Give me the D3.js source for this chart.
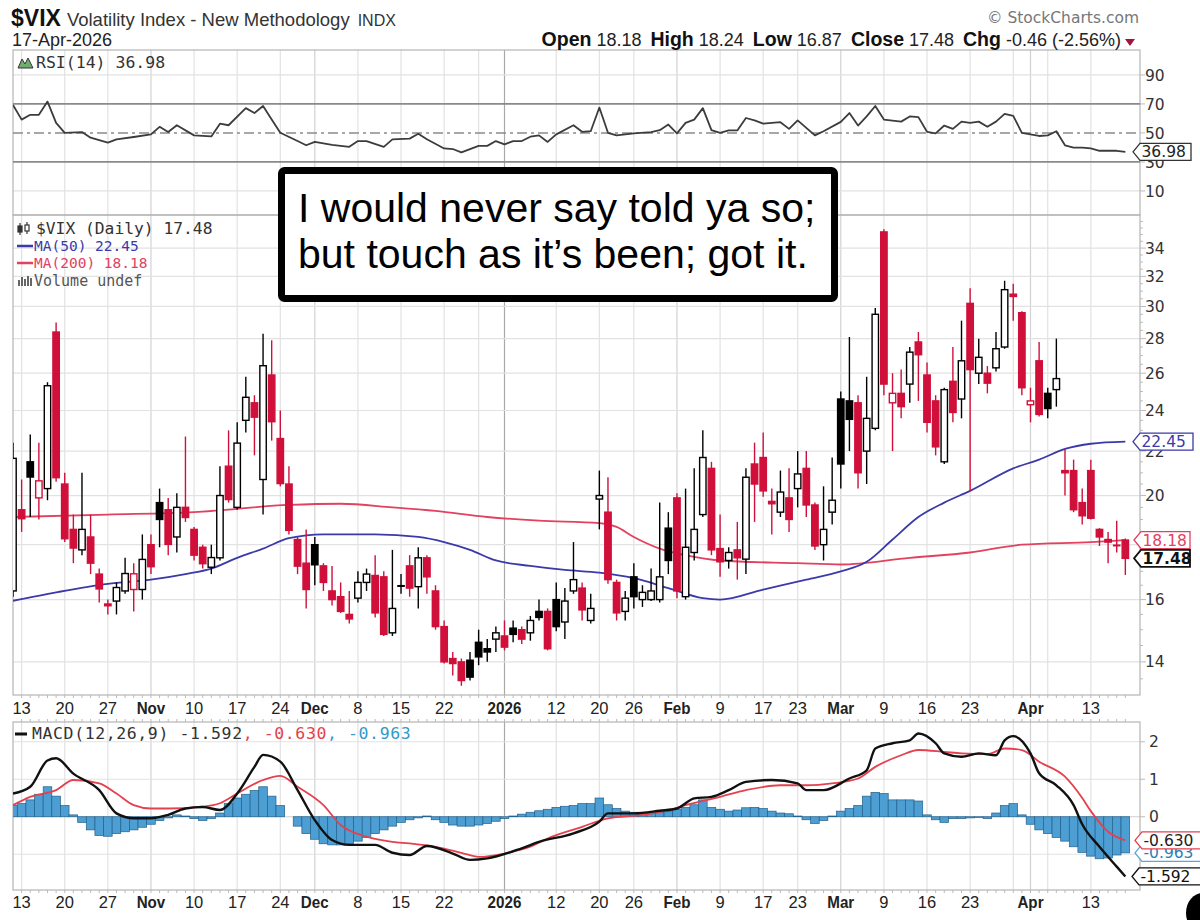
<!DOCTYPE html>
<html><head><meta charset="utf-8"><title>$VIX</title>
<script src="https://cdn.jsdelivr.net/npm/d3@7/dist/d3.min.js"></script>
<style>html,body{margin:0;padding:0;background:#fff}svg{display:block}</style>
</head><body><svg id="c" width="1200" height="920"></svg>
<script>
// ---------------- DATA (bar index -1 = 10-Oct-2025 ... 128 = 17-Apr-2026) ----------------
const firstIndex = -1;
const opens = [
 16.3,19.4,21.5,19.9,20.3,28.4,20.5,18.6,17.8,18.3,
 16.9,15.85,15.95,16.3,16.35,16.35,18.0,19.7,19.4,18.3,
 19.5,18.6,17.9,17.15,17.5,21.3,19.5,23.5,24.4,20.7,
 25.9,22.6,20.5,18.2,17.3,18.0,17.2,16.3,16.1,15.5,
 16.05,16.6,16.85,16.8,14.9,16.45,17.2,16.45,17.5,16.3,
 15.1,14.1,14.0,14.05,14.6,14.4,14.7,14.8,15.05,15.0,
 14.9,15.6,15.6,16.0,15.25,16.3,16.4,15.3,19.85,19.3,
 16.6,15.6,16.8,16.0,16.0,16.0,18.65,19.9,16.1,17.7,
 19.2,21.2,17.85,17.4,17.8,17.45,21.4,21.7,19.75,19.3,
 19.9,20.3,21.2,19.6,18.0,19.3,24.6,24.5,24.4,22.0,
 23.1,35.2,24.4,24.9,25.4,27.8,25.9,24.5,21.5,25.55,
 24.6,30.2,26.0,26.0,26.3,27.5,30.8,29.6,24.3,26.7,
 24.9,25.1,21.1,21.1,19.7,21.1,18.6,18.2,18.0,18.18];
const highs = [
 22.4,20.7,22.8,22.4,25.5,28.99,21.0,19.2,21.0,19.2,
 17.1,16.0,16.6,17.5,17.3,18.4,18.4,20.3,19.9,20.1,
 22.7,18.7,18.0,18.0,21.3,23.0,23.4,25.8,24.8,28.3,
 27.9,24.0,21.3,18.3,18.6,18.3,17.3,17.2,16.6,16.3,
 17.0,17.1,17.6,17.0,17.8,16.9,17.6,17.9,17.6,16.5,
 15.3,14.3,14.1,14.3,15.0,14.7,15.1,15.3,15.3,15.1,
 15.45,16.0,15.7,16.6,16.4,18.1,16.6,16.2,21.1,20.8,
 16.7,16.3,17.3,16.5,17.1,19.7,19.3,20.1,20.3,21.2,
 23.0,21.5,19.2,17.9,18.9,21.2,22.4,22.9,20.3,21.1,
 21.2,22.0,22.0,19.7,20.4,21.7,25.0,28.1,24.8,25.8,
 29.9,35.4,26.0,26.2,27.5,28.4,26.6,24.8,25.2,27.5,
 29.1,31.2,28.0,26.4,28.4,31.7,31.5,29.7,25.2,27.8,
 25.2,28.0,22.1,21.6,20.3,21.6,18.65,18.5,18.95,18.24];
const lows = [
 16.1,18.5,19.1,19.0,19.8,20.6,18.1,17.3,17.6,16.9,
 15.9,15.5,15.5,16.2,15.6,16.0,16.9,17.9,17.6,17.7,
 18.9,17.4,17.1,16.9,17.4,19.7,19.4,22.9,21.8,19.2,
 22.5,20.4,18.4,16.9,15.7,16.5,16.3,15.8,15.55,15.2,
 15.9,16.3,15.4,14.8,14.8,16.2,16.1,15.7,16.2,15.0,
 13.95,13.6,13.3,13.45,13.9,14.0,14.3,14.35,14.6,14.55,
 14.65,15.3,14.35,14.95,14.7,16.2,15.3,15.2,18.6,16.55,
 15.3,15.3,15.7,15.75,15.95,15.9,16.9,16.05,16.0,17.4,
 19.1,17.6,16.8,17.1,16.7,16.9,18.9,19.95,18.4,19.1,
 18.5,19.5,19.1,17.8,17.4,18.8,20.3,22.0,20.3,20.5,
 23.0,24.8,22.0,23.6,24.4,24.5,22.9,21.8,21.4,23.4,
 23.6,20.2,25.4,24.9,26.1,27.4,29.1,24.8,23.4,23.7,
 23.6,24.2,20.0,19.3,18.8,19.0,17.95,17.3,17.7,16.87];
const closes = [
 21.66,19.03,20.81,20.64,25.31,20.78,18.23,17.87,18.6,17.3,
 16.37,15.79,16.42,16.92,16.91,17.44,17.17,19.0,18.01,19.5,
 19.08,17.6,17.28,17.51,20.0,19.83,22.38,24.69,23.66,26.42,
 23.43,20.52,18.56,17.19,16.35,17.24,16.6,16.0,15.6,15.35,
 16.6,16.9,15.55,14.85,15.7,16.5,16.4,17.5,16.8,15.1,
 14.0,13.95,13.45,13.55,14.15,14.3,14.9,14.45,14.85,14.7,
 15.3,15.4,14.4,15.1,15.95,16.7,15.65,15.7,20.0,16.7,
 15.55,16.05,16.1,16.25,16.3,16.8,17.4,16.3,17.9,18.6,
 21.7,17.8,17.35,17.7,17.5,20.8,20.5,20.2,19.65,20.15,
 19.0,20.95,19.6,17.95,18.6,19.8,21.4,23.55,21.0,23.6,
 29.5,25.4,24.9,24.2,27.2,27.05,23.4,22.2,25.1,23.9,
 26.7,26.2,26.9,25.45,27.4,31.1,30.65,25.2,24.5,23.8,
 24.1,25.7,21.0,19.4,19.15,19.05,18.3,18.1,17.94,17.48];

// moving averages: [bar index, value]
const ma50 = [[-1,15.96],[4,16.25],[10,16.55],[15,16.7],[19,16.9],[22,17.1],[25,17.5],[28,17.85],[31,18.25],[35,18.4],[41,18.4],[46,18.3],[49,18.1],[52,17.8],[55,17.4],[59,17.2],[63,17.05],[67,16.95],[71,16.75],[75,16.4],[79,16.05],[81,16.0],[86,16.35],[91,16.7],[95,17.0],[98,17.35],[101,18.2],[104,19.1],[107,19.7],[110,20.2],[115,21.2],[118,21.6],[121,22.1],[124,22.35],[128,22.45]];
const ma200 = [[-1,19.1],[10,19.2],[20,19.3],[31,19.6],[37,19.65],[43,19.5],[48,19.35],[54,19.1],[60,18.95],[67,18.85],[69,18.7],[71,18.3],[74,17.85],[77,17.6],[81,17.4],[90,17.3],[95,17.25],[103,17.5],[110,17.7],[116,18.0],[124,18.1],[128,18.18]];

// RSI(14): [bar index, value]
const rsi = [[-1,69.3],[0,59.2],[1,62.5],[2,62.5],[3,71.6],[4,56.9],[5,50.1],[7,50.6],[8,46.7],[10,43.3],[11,45.6],[13,47.2],[15,49],[16,54.2],[17,50.6],[18,55.3],[20,48.3],[22,47.6],[23,56.4],[24,55.3],[26,67.1],[27,63.7],[28,68.6],[29,59.2],[30,50.1],[32,44.4],[33,41.5],[34,43.8],[36,41.8],[38,40.4],[39,44.4],[40,44.4],[42,40.4],[43,45.6],[45,46.1],[46,49.4],[47,45.6],[49,39.3],[50,38.9],[51,36.6],[53,41.1],[54,41.1],[55,44.4],[56,42.1],[57,44.4],[58,44.4],[59,47.4],[60,48.3],[61,43.8],[62,49],[64,55.3],[65,50.8],[66,51.2],[67,67.5],[68,50.1],[69,48.3],[71,49.7],[73,50.6],[74,51.9],[75,55.8],[76,49.7],[77,56.9],[78,59.2],[79,67.1],[80,51.9],[81,50.1],[82,51.7],[83,51.7],[84,60.3],[85,58.7],[86,56.4],[88,57.4],[89,52.8],[90,58.7],[91,53.5],[92,48.3],[93,51.2],[95,57.6],[96,63.7],[97,55.1],[98,61.4],[99,68.6],[100,59.2],[102,57.8],[103,61.4],[104,60.9],[105,50.8],[106,49.7],[107,55.1],[108,52.8],[109,57.8],[110,56.9],[111,57.8],[112,54.2],[113,57.8],[114,63.2],[115,61.8],[116,50.1],[118,47.9],[119,48.3],[120,51.2],[121,41.5],[122,39.9],[123,39.9],[124,39.3],[125,37.7],[127,37.7],[128,36.98]];

// MACD(12,26,9): line and signal [bar index, value]; histogram per bar from index -1
const macdLine = [[-1,0.62],[1,0.8],[3,1.5],[4,1.56],[6,1.15],[9,0.71],[11,0.09],[13,-0.04],[15,-0.04],[17,0.05],[19,0.22],[21,0.26],[23,0.18],[25,0.62],[27,1.33],[28,1.65],[30,1.47],[32,0.71],[34,-0.09],[36,-0.62],[38,-0.75],[41,-0.75],[43,-0.96],[45,-1.02],[47,-0.78],[50,-0.98],[52,-1.15],[54,-1.11],[58,-0.84],[60,-0.67],[64,-0.44],[67,-0.13],[68,0.09],[71,0.09],[74,0.16],[76,0.22],[78,0.49],[80,0.53],[82,0.71],[84,0.93],[87,0.98],[90,0.89],[91,0.71],[93,0.71],[96,1.02],[98,1.24],[99,1.82],[101,1.96],[103,2.04],[104,2.22],[106,1.96],[107,1.69],[109,1.6],[111,1.69],[113,1.64],[114,2.04],[115,2.15],[117,1.69],[118,1.16],[120,0.84],[122,0.31],[123,-0.2],[125,-0.8],[127,-1.33],[128,-1.592]];
const signalLine = [[-1,0.31],[1,0.53],[4,0.71],[6,0.98],[9,0.89],[11,0.62],[13,0.31],[15,0.22],[17,0.22],[21,0.27],[23,0.36],[25,0.62],[28,0.98],[30,1.09],[32,0.8],[35,0.31],[37,-0.22],[40,-0.53],[43,-0.67],[45,-0.71],[48,-0.8],[51,-0.96],[53,-1.07],[56,-0.98],[59,-0.8],[61,-0.58],[65,-0.27],[68,-0.04],[72,0.05],[75,0.18],[77,0.31],[81,0.53],[84,0.71],[88,0.84],[91,0.84],[94,0.89],[97,1.02],[99,1.33],[102,1.64],[104,1.78],[107,1.73],[109,1.69],[112,1.67],[114,1.82],[116,1.78],[118,1.47],[121,1.07],[123,0.5],[124,0.15],[126,-0.4],[128,-0.63]];
const histogram = [
 0.3,0.35,0.45,0.6,0.8,0.55,0.3,0.05,-0.15,-0.35,
 -0.5,-0.52,-0.45,-0.4,-0.35,-0.28,-0.2,-0.1,-0.03,0.05,
 0.02,-0.05,-0.1,-0.05,0.1,0.35,0.5,0.6,0.7,0.8,
 0.55,0.3,0.0,-0.25,-0.45,-0.6,-0.72,-0.75,-0.75,-0.72,
 -0.65,-0.55,-0.45,-0.35,-0.25,-0.15,-0.08,-0.03,0.02,-0.08,
 -0.15,-0.22,-0.25,-0.25,-0.22,-0.18,-0.12,-0.05,0.02,0.07,
 0.12,0.16,0.2,0.25,0.28,0.3,0.35,0.35,0.5,0.32,
 0.22,0.15,0.12,0.1,0.1,0.12,0.15,0.2,0.25,0.32,
 0.45,0.25,0.2,0.15,0.18,0.24,0.25,0.22,0.15,0.1,
 0.08,0.02,-0.08,-0.18,-0.1,0.02,0.15,0.22,0.3,0.55,
 0.65,0.62,0.45,0.45,0.45,0.42,0.05,-0.08,-0.15,-0.05,
 -0.05,-0.03,-0.02,-0.05,0.1,0.3,0.35,0.05,-0.2,-0.35,
 -0.45,-0.55,-0.65,-0.8,-0.95,-1.05,-1.12,-1.1,-1.02,-0.963];

// x axis
const tickIdx    = [0,5,10,15,20,25,30,34,39,44,49,56,62,67,71,76,81,86,90,95,100,105,110,117,124];
const tickLabels = ["13","20","27","Nov","10","17","24","Dec","8","15","22","2026","12","20","26","Feb","9","17","23","Mar","9","16","23","Apr","13"];
const tickBold   = ["Nov","Dec","2026","Feb","Mar","Apr"];
const extraGridIdx = [53,115,119];
const priceTicks = [14,16,18,20,22,24,26,28,30,32,34];
const priceLabels = [14,16,20,22,24,26,28,30,32,34];   // 18 is hidden behind the value tags
const rsiTicks = [10,30,50,70,90];
const macdTicks = [-1,0,1,2];
const macdLabels = [0,1,2];                              // -1 is hidden behind the value tags

// header values
const titleSym = "$VIX", titleName = "Volatility Index - New Methodology", titleExch = "INDX", dateStr = "17-Apr-2026";
const quote = [["Open","18.18"],["High","18.24"],["Low","16.87"],["Close","17.48"],["Chg","-0.46 (-2.56%)"]];
const lastRsi = 36.98, lastMa50 = 22.45, lastMa200 = 18.18, lastClose = 17.48;
const lastMacd = -1.592, lastSignal = -0.630, lastHist = -0.963;

// ---------------- LAYOUT ----------------
const svg = d3.select('#c');
const L = 13, R = 1140;
const RSI_T = 50, RSI_B = 215, PR_T = 215, PR_B = 695, M_T = 722, M_B = 890;
const x = d3.scaleLinear().domain([-1, 129.7]).range([L, R]);
const yR = d3.scaleLinear().domain([-6.6, 107.2]).range([RSI_B, RSI_T]);
const yP = d3.scaleLog().domain([13.04, 36.5]).range([PR_B, PR_T]);
const yM = d3.scaleLinear().domain([-1.953, 2.527]).range([M_B, M_T]);
const RED = '#d0103a', BLUE = '#3a3aaa', MARED = '#e2415f', HISTC = '#4d9fd3';
const SANS = '"Liberation Sans", Arial, sans-serif', DV = '"DejaVu Sans", Verdana, sans-serif', MONO = '"DejaVu Sans Mono", monospace';

svg.append('rect').attr('width',1200).attr('height',920).attr('fill','#fff');
const defs = svg.append('defs');
[['cR',RSI_T,RSI_B],['cP',PR_T,PR_B],['cM',M_T,M_B]].forEach(([id,t,b]) =>
  defs.append('clipPath').attr('id',id).append('rect').attr('x',L).attr('y',t).attr('width',R-L).attr('height',b-t));

// vertical grid
const gridG = svg.append('g');
const allGrid = tickIdx.map((d,k)=>({i:d,lab:tickLabels[k]})).concat(extraGridIdx.map(d=>({i:d,lab:''})));
[[RSI_T,RSI_B],[PR_T,PR_B],[M_T,M_B]].forEach(([t,b]) => {
  allGrid.forEach(g => {
    const col = g.lab === '2026' ? '#a9a9a9' : (tickBold.includes(g.lab) ? '#d2d2d2' : '#e2e2e2');
    gridG.append('line').attr('x1',x(g.i)).attr('x2',x(g.i)).attr('y1',t).attr('y2',b)
      .attr('stroke',col).attr('stroke-width',1.2);
  });
});
// horizontal grids
priceTicks.forEach(v => gridG.append('line').attr('x1',L).attr('x2',R).attr('y1',yP(v)).attr('y2',yP(v)).attr('stroke','#e2e2e2').attr('stroke-width',1.2));
[90,10].forEach(v => gridG.append('line').attr('x1',L).attr('x2',R).attr('y1',yR(v)).attr('y2',yR(v)).attr('stroke','#e2e2e2').attr('stroke-width',1.2));
macdTicks.forEach(v => gridG.append('line').attr('x1',L).attr('x2',R).attr('y1',yM(v)).attr('y2',yM(v)).attr('stroke', v===0?'#cfcfcf':'#e2e2e2').attr('stroke-width',1.2));

// panel borders
[[RSI_T,RSI_B],[PR_T,PR_B],[M_T,M_B]].forEach(([t,b]) =>
  svg.append('rect').attr('x',L).attr('y',t).attr('width',R-L).attr('height',b-t).attr('fill','none').attr('stroke','#b5b5b5').attr('stroke-width',1.2));

// day ticks along borders
const dayIdx = d3.range(0,129);
const tk = svg.append('g').attr('stroke','#bbb').attr('stroke-width',1);
dayIdx.forEach(i => {
  tk.append('line').attr('x1',x(i)).attr('x2',x(i)).attr('y1',PR_B).attr('y2',PR_B+3);
  tk.append('line').attr('x1',x(i)).attr('x2',x(i)).attr('y1',M_T-3).attr('y2',M_T);
  tk.append('line').attr('x1',x(i)).attr('x2',x(i)).attr('y1',M_B).attr('y2',M_B+3);
});
// right minor ticks on price axis
d3.range(13.5, 36.01, 0.5).forEach(v => {
  if (yP(v) < PR_T || yP(v) > PR_B) return;
  const major = priceTicks.includes(v);
  tk.append('line').attr('x1',R).attr('x2',R+(major?6:3)).attr('y1',yP(v)).attr('y2',yP(v));
});
rsiTicks.forEach(v => tk.append('line').attr('x1',R).attr('x2',R+5).attr('y1',yR(v)).attr('y2',yR(v)));
macdTicks.forEach(v => tk.append('line').attr('x1',R).attr('x2',R+5).attr('y1',yM(v)).attr('y2',yM(v)));

// ---------------- RSI ----------------
const rsiG = svg.append('g').attr('clip-path','url(#cR)');
[70,30].forEach(v => rsiG.append('line').attr('x1',L).attr('x2',R).attr('y1',yR(v)).attr('y2',yR(v)).attr('stroke','#8a8a8a').attr('stroke-width',1.8));
rsiG.append('line').attr('x1',L).attr('x2',R).attr('y1',yR(50)).attr('y2',yR(50)).attr('stroke','#8a8a8a').attr('stroke-width',1.4).attr('stroke-dasharray','10,4,3,4');
rsiG.append('path').datum(rsi).attr('d', d3.line().x(d=>x(d[0])).y(d=>yR(d[1])))
  .attr('fill','none').attr('stroke','#3c3c3c').attr('stroke-width',1.8).attr('stroke-linejoin','round');

// ---------------- PRICE ----------------
const pG = svg.append('g').attr('clip-path','url(#cP)');
const maLine = d3.line().x(d=>x(d[0])).y(d=>yP(d[1])).curve(d3.curveMonotoneX);
pG.append('path').datum(ma200).attr('d',maLine).attr('fill','none').attr('stroke',MARED).attr('stroke-width',1.8);
pG.append('path').datum(ma50).attr('d',maLine).attr('fill','none').attr('stroke',BLUE).attr('stroke-width',1.8);

const bars = opens.map((o,k) => {
  const c = closes[k], pc = k>0 ? closes[k-1] : o;
  return {i:k+firstIndex, o, h:highs[k], l:lows[k], c, up: c>=o, col: c>=pc ? '#000' : RED};
});
const bw = 6.4;
const cg = pG.append('g');
bars.forEach(b => {
  const cx = x(b.i);
  cg.append('line').attr('x1',cx).attr('x2',cx).attr('y1',yP(b.h)).attr('y2',yP(b.l)).attr('stroke',b.col).attr('stroke-width',1.4);
  const yt = yP(Math.max(b.o,b.c)), yb = yP(Math.min(b.o,b.c));
  if (yb - yt < 1.6) {
    cg.append('line').attr('x1',cx-bw/2-0.6).attr('x2',cx+bw/2+0.6).attr('y1',(yt+yb)/2).attr('y2',(yt+yb)/2)
      .attr('stroke',b.col).attr('stroke-width',2);
  } else {
    cg.append('rect').attr('x',cx-bw/2).attr('y',yt).attr('width',bw).attr('height',yb-yt)
      .attr('fill', b.up ? '#fff' : b.col).attr('stroke',b.col).attr('stroke-width',1.4);
  }
});

// ---------------- MACD ----------------
const mG = svg.append('g').attr('clip-path','url(#cM)');
const hw = x(1)-x(0);
histogram.forEach((v,k) => {
  const i = k+firstIndex;
  const y0 = yM(0), y1 = yM(v);
  mG.append('rect').attr('x',x(i)-hw/2).attr('y',Math.min(y0,y1)).attr('width',hw).attr('height',Math.abs(y1-y0))
    .attr('fill',HISTC).attr('stroke','#21608c').attr('stroke-width',0.7);
});
const mLine = d3.line().x(d=>x(d[0])).y(d=>yM(d[1])).curve(d3.curveMonotoneX);
mG.append('path').datum(signalLine).attr('d',mLine).attr('fill','none').attr('stroke','#e4414e').attr('stroke-width',1.8);
mG.append('path').datum(macdLine).attr('d',mLine).attr('fill','none').attr('stroke','#111').attr('stroke-width',2.4);

// ---------------- AXIS LABELS ----------------
const axG = svg.append('g').attr('font-family',DV).attr('font-size',15.5).attr('fill','#333');
priceLabels.forEach(v => axG.append('text').attr('x',R+5).attr('y',yP(v)).attr('dy','0.36em').text(v));
rsiTicks.forEach(v => axG.append('text').attr('x',R+5).attr('y',yR(v)).attr('dy','0.36em').text(v));
macdLabels.forEach(v => axG.append('text').attr('x',R+9).attr('y',yM(v)).attr('dy','0.36em').text(v));

const xG = svg.append('g').attr('font-family',SANS).attr('font-size',16.5).attr('fill','#222').attr('text-anchor','middle');
[708, 902].forEach(yy => tickIdx.forEach((i,k) => {
  const lab = tickLabels[k];
  xG.append('text').attr('x',x(i)).attr('y',yy).attr('dy','0.36em')
    .attr('font-weight', tickBold.includes(lab) ? 'bold' : 'normal')
    .attr('transform', tickBold.includes(lab) ? `translate(${x(i)},0) scale(0.92,1) translate(${-x(i)},0)` : null)
    .text(lab);
}));

// value tags
function tag(yv, text, stroke, color, bold, x0, w) {
  const h = 17, g = svg.append('g');
  g.append('path').attr('d',`M${x0},${yv} L${x0+7},${yv-h/2} L${x0+w},${yv-h/2} L${x0+w},${yv+h/2} L${x0+7},${yv+h/2} Z`)
    .attr('fill','#fff').attr('stroke',stroke).attr('stroke-width', bold?1.8:1.3);
  g.append('text').attr('x',x0+8.5).attr('y',yv).attr('dy','0.36em').attr('font-family',DV).attr('font-size',15.5)
    .attr('font-weight', bold?'bold':'normal').attr('fill',color).text(text);
}
tag(yR(lastRsi), lastRsi.toFixed(2), '#333', '#222', false, 1133, 58);
tag(yP(lastMa50), lastMa50.toFixed(2), BLUE, BLUE, false, 1133, 60);
tag(yP(lastMa200), lastMa200.toFixed(2), MARED, MARED, false, 1134, 56);
tag(yP(lastClose), lastClose.toFixed(2), '#111', '#111', true, 1134, 56);
tag(yM(lastHist), lastHist.toFixed(3), '#5aa8d8', '#2f7fb5', false, 1135, 70);
tag(yM(lastSignal), lastSignal.toFixed(3), '#e4414e', '#222', false, 1135, 70);
tag(yM(lastMacd), lastMacd.toFixed(3), '#111', '#111', false, 1132, 70);

// ---------------- HEADER ----------------
const hd = svg.append('g').attr('font-family',SANS).attr('fill','#111');
const t1 = hd.append('text').attr('x',11).attr('y',26);
t1.append('tspan').attr('font-weight','bold').attr('font-size',23).text(titleSym);
t1.append('tspan').attr('font-size',18.5).attr('dx',6).attr('fill','#333').text(titleName);
t1.append('tspan').attr('font-size',16).attr('dx',8).attr('fill','#333').text(titleExch);
hd.append('text').attr('x',12).attr('y',46).attr('font-size',18).attr('fill','#222').text(dateStr);
hd.append('text').attr('x',1139).attr('y',23).attr('text-anchor','end').attr('font-family',DV).attr('font-size',15.5).attr('fill','#777').text('\u00A9 StockCharts.com');
const q = hd.append('text').attr('x',1121).attr('y',46).attr('text-anchor','end');
quote.forEach(([k,v],n) => {
  q.append('tspan').attr('font-weight','bold').attr('font-size',19.5).attr('dx', n?9:0).text(k);
  q.append('tspan').attr('font-size',18).attr('dx',5).attr('fill','#222').text(v);
});
hd.append('path').attr('d','M1125,39 L1135,39 L1130,46 Z').attr('fill','#a3123a');

// ---------------- LEGENDS ----------------
const lg = svg.append('g').attr('font-family',MONO);
lg.append('path').attr('d','M18,68 L22,59 L25,64 L28,58 L33,68 Z').attr('fill','#6fae6f').attr('stroke','#333').attr('stroke-width',1);
lg.append('text').attr('x',36).attr('y',68).attr('font-size',16.5).attr('fill','#333').text(`RSI(14) ${lastRsi.toFixed(2)}`);
const ic = lg.append('g').attr('stroke','#333').attr('stroke-width',1.2);
ic.append('line').attr('x1',20).attr('x2',20).attr('y1',223).attr('y2',235);
ic.append('rect').attr('x',18).attr('y',226).attr('width',4).attr('height',6).attr('fill','#333');
ic.append('line').attr('x1',27).attr('x2',27).attr('y1',222).attr('y2',234);
ic.append('rect').attr('x',25).attr('y',225).attr('width',4).attr('height',6).attr('fill','#fff');
lg.append('text').attr('x',36).attr('y',234).attr('font-size',16.3).attr('fill','#333').text(`$VIX (Daily) ${lastClose.toFixed(2)}`);
lg.append('line').attr('x1',17).attr('x2',33).attr('y1',246).attr('y2',246).attr('stroke',BLUE).attr('stroke-width',2.5);
lg.append('text').attr('x',34).attr('y',251).attr('font-size',14.5).attr('fill',BLUE).text(`MA(50) ${lastMa50.toFixed(2)}`);
lg.append('line').attr('x1',17).attr('x2',33).attr('y1',263).attr('y2',263).attr('stroke',MARED).attr('stroke-width',2.5);
lg.append('text').attr('x',34).attr('y',268).attr('font-size',14.5).attr('fill',MARED).text(`MA(200) ${lastMa200.toFixed(2)}`);
[[18,6],[21,9],[24,7],[27,10],[30,8]].forEach(([xx,h]) => lg.append('rect').attr('x',xx).attr('y',286-h).attr('width',2).attr('height',h).attr('fill','#666'));
lg.append('text').attr('x',34).attr('y',286).attr('font-size',15).attr('fill','#555').text('Volume undef');
lg.append('line').attr('x1',15).attr('x2',27).attr('y1',734).attr('y2',734).attr('stroke','#111').attr('stroke-width',3);
const ml = lg.append('text').attr('x',32).attr('y',739).attr('font-size',16.5).attr('letter-spacing',0.6);
ml.append('tspan').attr('fill','#333').text(`MACD(12,26,9) ${lastMacd.toFixed(3)}`);
ml.append('tspan').attr('fill','#e4414e').text(`, ${lastSignal.toFixed(3)}`);
ml.append('tspan').attr('fill','#3399cc').text(`, ${lastHist.toFixed(3)}`);

// ---------------- ANNOTATION BOX ----------------
const ann = svg.append('g');
ann.append('rect').attr('x',281.5).attr('y',170.5).attr('width',553).attr('height',128).attr('rx',3)
  .attr('fill','#fff').attr('stroke','#000').attr('stroke-width',7);
ann.append('text').attr('x',298).attr('y',222).attr('font-family',SANS).attr('font-size',41).attr('fill','#000').text('I would never say told ya so;');
ann.append('text').attr('x',298).attr('y',268).attr('font-family',SANS).attr('font-size',41).attr('fill','#000').text('but touch as it\u2019s been; got it.');

// corner blob
svg.append('ellipse').attr('cx',1203).attr('cy',913).attr('rx',17).attr('ry',20).attr('fill','#000');
</script></body></html>
